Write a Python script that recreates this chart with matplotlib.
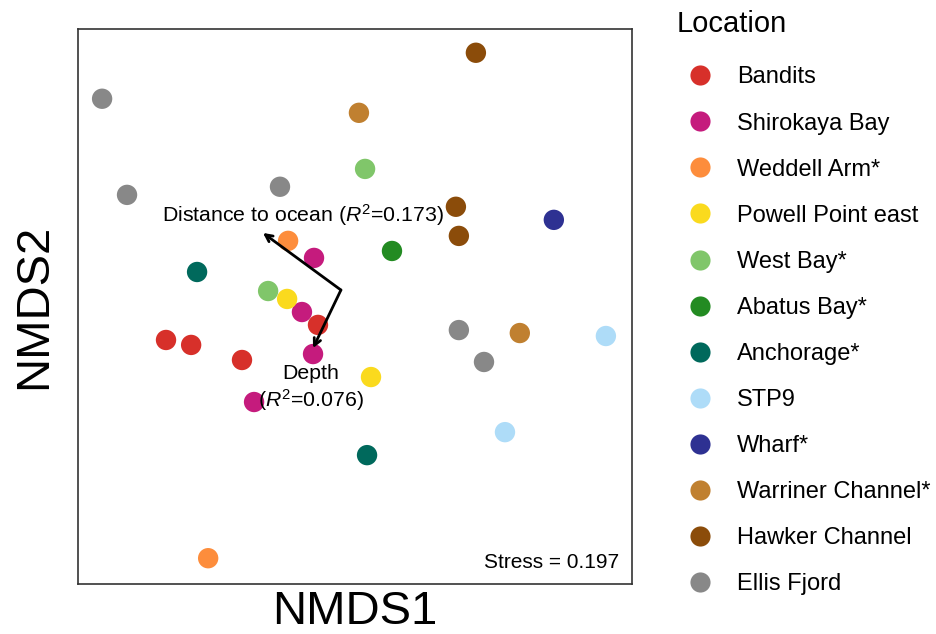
import matplotlib
matplotlib.use("Agg")
import matplotlib.pyplot as plt
from matplotlib.lines import Line2D

plt.rcParams['font.family'] = ['Liberation Sans', 'DejaVu Sans']
plt.rcParams['mathtext.fontset'] = 'custom'
plt.rcParams['mathtext.rm'] = 'Liberation Sans'
plt.rcParams['mathtext.it'] = 'Liberation Sans:italic'

locations = ["Bandits", "Shirokaya Bay", "Weddell Arm*", "Powell Point east", "West Bay*",
             "Abatus Bay*", "Anchorage*", "STP9", "Wharf*", "Warriner Channel*",
             "Hawker Channel", "Ellis Fjord"]
colors = ["#D7302A", "#C51B7D", "#FD8D3C", "#FADA1E", "#80C66A",
          "#238B22", "#00695C", "#AEDCF8", "#2E3192", "#C08030",
          "#8B4C0A", "#888888"]

nmds1 = {
    "Bandits": [-0.955, -0.828, -0.571, -0.187],
    "Shirokaya Bay": [-0.207, -0.268, -0.212, -0.510],
    "Weddell Arm*": [-0.338, -0.742],
    "Powell Point east": [-0.343, 0.081],
    "West Bay*": [0.051, -0.439],
    "Abatus Bay*": [0.187],
    "Anchorage*": [-0.798, 0.061],
    "STP9": [1.268, 0.758],
    "Wharf*": [1.005],
    "Warriner Channel*": [0.020, 0.833],
    "Hawker Channel": [0.611, 0.510, 0.525],
    "Ellis Fjord": [-1.278, -1.152, -0.379, 0.525, 0.652],
}
nmds2 = {
    "Bandits": [-0.169, -0.194, -0.270, -0.093],
    "Shirokaya Bay": [0.245, -0.028, -0.240, -0.482],
    "Weddell Arm*": [0.331, -1.270],
    "Powell Point east": [0.038, -0.356],
    "West Bay*": [0.694, 0.078],
    "Abatus Bay*": [0.280],
    "Anchorage*": [0.174, -0.750],
    "STP9": [-0.149, -0.634],
    "Wharf*": [0.437],
    "Warriner Channel*": [0.977, -0.134],
    "Hawker Channel": [1.280, 0.503, 0.356],
    "Ellis Fjord": [1.048, 0.563, 0.604, -0.119, -0.280],
}

vec_names = ["Distance to ocean", "Depth"]
vec_r2 = [0.173, 0.076]
vec_origin = (-0.071, 0.083)
vec_x = [-0.465, -0.212]
vec_y = [0.371, -0.210]
stress = 0.197

fig = plt.figure(figsize=(9.37, 6.34), dpi=100)
ax = fig.add_axes([0.0832, 0.0789, 0.5913, 0.8754])

for loc, c in zip(locations, colors):
    ax.scatter(nmds1[loc], nmds2[loc], s=215, color=c, edgecolors='none', zorder=2)

for name, r2, vx, vy in zip(vec_names, vec_r2, vec_x, vec_y):
    ax.annotate("", xy=(vx, vy), xytext=vec_origin,
                arrowprops=dict(arrowstyle="->,head_length=0.5,head_width=0.25",
                                color="black", lw=2.0, shrinkA=0, shrinkB=0), zorder=3)

ax.text(-0.264, 0.463, f"Distance to ocean ($R^2$={vec_r2[0]:.3f})", ha='center', va='center',
        fontsize=15.3, zorder=4)
ax.text(-0.222, -0.337, "Depth", ha='center', va='center', fontsize=15.3, zorder=4)
ax.text(-0.222, -0.470, f"($R^2$={vec_r2[1]:.3f})", ha='center', va='center', fontsize=15.3, zorder=4)

ax.text(0.976, 0.022, f"Stress = {stress}", transform=ax.transAxes, ha='right', va='bottom', fontsize=15)

ax.set_xlim(-1.4, 1.4)
ax.set_ylim(-1.4, 1.4)
ax.set_xticks([])
ax.set_yticks([])
for sp in ax.spines.values():
    sp.set_linewidth(1.2)
    sp.set_color("#333333")
ax.set_xlabel("NMDS1", fontsize=34, labelpad=4)
ax.set_ylabel("NMDS2", fontsize=34, labelpad=16)

handles = [Line2D([0], [0], marker='o', linestyle='none', markersize=14.5,
                  markerfacecolor=c, markeredgecolor='none') for c in colors]
leg = fig.legend(handles, locations, loc='upper left', bbox_to_anchor=(0.7225, 0.984),
                 frameon=False, fontsize=17, title="Location", title_fontsize=21,
                 alignment='left', handlelength=1.95, handletextpad=0.59,
                 labelspacing=1.02, borderpad=0.0, borderaxespad=0.0)
leg._legend_box.sep = 20.4

fig.savefig("out.png", dpi=100)
